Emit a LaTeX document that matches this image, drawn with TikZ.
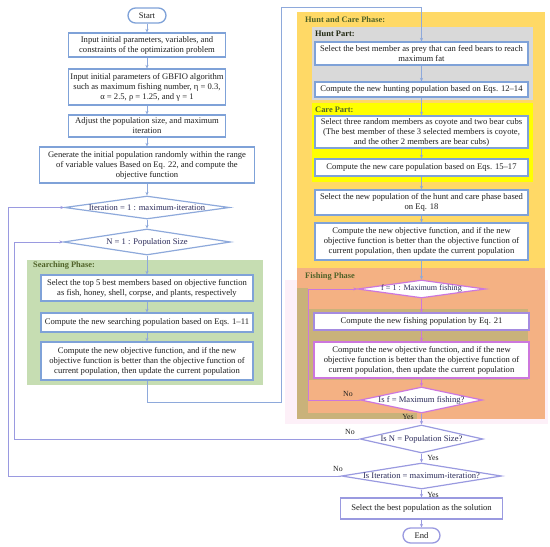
\documentclass[tikz,border=0pt]{standalone}
\usepackage{fontspec}
\setmainfont{Liberation Serif}
\usetikzlibrary{shapes.geometric,arrows.meta}
\definecolor{bx}{HTML}{7FA2D8}
\definecolor{ln}{HTML}{8EA9DB}
\definecolor{lav}{HTML}{9A9AE0}
\definecolor{mag}{HTML}{CC77DD}
\definecolor{fbx}{HTML}{A58BE0}
\definecolor{txt}{HTML}{1F1F1F}
\definecolor{dtxt}{HTML}{2B2B5A}
\definecolor{lbl}{HTML}{4F6228}
\definecolor{grn}{HTML}{C6DDB2}
\definecolor{gold}{HTML}{FFD966}
\definecolor{gry}{HTML}{D9D9D9}
\definecolor{yel}{HTML}{FFFF00}
\definecolor{salm}{HTML}{F4B183}
\definecolor{khaki}{HTML}{C9B27A}
\definecolor{pinkbg}{HTML}{FDF0F8}
\begin{document}
\begin{tikzpicture}[x=1pt,y=-1pt,
  font=\fontsize{8.6}{10}\selectfont,
  boxn/.style={draw=bx, line width=1.3pt, fill=white, align=center, inner sep=0pt, text=txt},
  pill/.style={boxn, rounded corners=7.5pt, minimum width=38pt, minimum height=15pt},
  dia/.style={diamond, draw=ln, line width=1.2pt, fill=white, inner sep=0pt},
  dtext/.style={text=dtxt, inner sep=0pt},
  conn/.style={draw=ln, line width=1pt, -{Stealth[length=3.5pt,width=3.2pt]}},
  phase/.style={anchor=west, text=lbl, font=\fontsize{8.4}{10}\selectfont\bfseries, inner sep=0pt},
  yn/.style={text=txt, font=\fontsize{7.8}{9}\selectfont, inner sep=0pt}
]
\useasboundingbox (0,0) rectangle (550,547);
% backgrounds
\fill[pinkbg] (285,280) rectangle (548,424);
\fill[grn] (27,260) rectangle (263,385);
\fill[gold] (297,12) rectangle (545,268);
\fill[gry] (312,27) rectangle (533,100);
\fill[yel] (312,103) rectangle (533,182);
\fill[salm] (297,268) rectangle (545,419);
\fill[khaki] (297,288) rectangle (528,419);
\fill[salm] (308,288) rectangle (545,309);
\fill[salm] (308,380) rectangle (545,413);
\fill[salm] (417,412) rectangle (545,419);

\node[phase] (lsp) at (33,266) {Searching Phase:};
\node[phase] (lhc) at (305,20) {Hunt and Care Phase:};
\node[phase, text=black!60!lbl] (lhp) at (315,34) {Hunt Part:};
\node[phase] (lcp) at (315,110) {Care Part:};
\node[phase] (lfp) at (305,277) {Fishing Phase};

% main column
\node[pill] (st) at (147,15.5) {Start};
\node[boxn, minimum width=157pt, minimum height=24pt] (b1) at (147,45) {Input initial parameters, variables, and\\constraints of the optimization problem};
\node[boxn, minimum width=157pt, minimum height=36pt] (b2) at (147,87) {Input initial parameters of GBFIO algorithm\\such as maximum fishing number, η = 0.3,\\α = 2.5, ρ = 1.25, and γ = 1};
\node[boxn, minimum width=157pt, minimum height=22pt] (b3) at (147,126) {Adjust the population size, and maximum\\iteration};
\node[boxn, minimum width=215pt, minimum height=36pt] (b4) at (147,165) {Generate the initial population randomly within the range\\of variable values Based on Eq. 22, and compute the\\objective function};
\node[dia, minimum width=165pt, minimum height=23pt] (d1) at (147,207.5) {};
\node[dtext] (t1) at (d1) {Iteration = 1 : maximum-iteration};
\node[dia, minimum width=167pt, minimum height=26pt] (d2) at (147,242) {};
\node[dtext] (t2) at (d2) {N = 1 : Population Size};
\node[boxn, minimum width=212pt, minimum height=26pt] (s1) at (147,288) {Select the top 5 best members based on objective function\\as fish, honey, shell, corpse, and plants, respectively};
\node[boxn, minimum width=212pt, minimum height=19pt] (s2) at (147,322.5) {Compute the new searching population based on Eqs. 1–11};
\node[boxn, minimum width=212pt, minimum height=38pt] (s3) at (147,361) {Compute the new objective function, and if the new\\objective function is better than the objective function of\\current population, then update the current population};

% right column
\node[boxn, minimum width=213pt, minimum height=23pt] (h1) at (421.5,53.5) {Select the best member as prey that can feed bears to reach\\maximum fat};
\node[boxn, minimum width=213pt, minimum height=15pt] (h2) at (421.5,89.5) {Compute the new hunting population based on Eqs. 12–14};
\node[boxn, minimum width=213pt, minimum height=32pt] (c1) at (421.5,132) {Select three random members as coyote and two bear cubs\\(The best member of these 3 selected members is coyote,\\and the other 2 members are bear cubs)};
\node[boxn, minimum width=213pt, minimum height=17pt] (c2) at (421.5,167.5) {Compute the new care population based on Eqs. 15–17};
\node[boxn, minimum width=213pt, minimum height=25pt] (hc1) at (421.5,202.5) {Select the new population of the hunt and care phase based\\on Eq. 18};
\node[boxn, minimum width=213pt, minimum height=37pt] (hc2) at (421.5,241.5) {Compute the new objective function, and if the new\\objective function is better than the objective function of\\current population, then update the current population};
\node[dia, draw=mag, minimum width=128pt, minimum height=18pt] (df) at (421.5,289) {};
\node[dtext, font=\fontsize{8.1}{10}\selectfont] (tf) at (df) {f = 1 : Maximum fishing};
\node[boxn, draw=fbx, minimum width=215pt, minimum height=17pt] (f1) at (421.5,321.5) {Compute the new fishing population by Eq. 21};
\node[boxn, draw=mag, minimum width=215pt, minimum height=36pt] (f2) at (421.5,360) {Compute the new objective function, and if the new\\objective function is better than the objective function of\\current population, then update the current population};
\node[dia, draw=mag, minimum width=122pt, minimum height=26pt] (dif) at (421.5,400) {};
\node[dtext] (tif) at (dif) {Is f = Maximum fishing?};
\node[dia, draw=lav, minimum width=123pt, minimum height=28pt] (din) at (421.5,439) {};
\node[dtext] (tin) at (din) {Is N = Population Size?};
\node[dia, draw=lav, minimum width=160pt, minimum height=26pt] (dii) at (421.5,476) {};
\node[dtext] (tii) at (dii) {Is Iteration = maximum-iteration?};
\node[boxn, draw=lav, minimum width=162pt, minimum height=21pt] (fin) at (421.5,508.5) {Select the best population as the solution};
\node[pill, draw=lav, minimum width=37pt] (en) at (421.5,535.5) {End};

% yes / no labels
\node[yn] (n1) at (348,394) {No};
\node[yn] (n2) at (350,432) {No};
\node[yn] (n3) at (338,469) {No};
\node[yn] (y1) at (408,417) {Yes};
\node[yn] (y2) at (433,458) {Yes};
\node[yn] (y3) at (433,495) {Yes};

% connectors main column
\draw[conn] (st) -- (b1);
\draw[conn] (b1) -- (b2);
\draw[conn] (b2) -- (b3);
\draw[conn] (b3) -- (b4);
\draw[conn] (b4) -- (d1.north);
\draw[conn] (d1.south) -- (d2.north);
\draw[conn] (d2.south) -- (s1);
\draw[conn] (s1) -- (s2);
\draw[conn] (s2) -- (s3);
\coordinate (j1) at (281,402);
\coordinate (j2) at (281,7);
\draw[conn] (s3.south) |- (j1) -- (j2) -| (h1.north);
% right column
\draw[conn] (h1) -- (h2);
\draw[conn] (h2) -- (c1);
\draw[conn] (c1) -- (c2);
\draw[conn] (c2) -- (hc1);
\draw[conn] (hc1) -- (hc2);
\draw[conn] (hc2) -- (df.north);
\draw[conn, draw=mag] (df.south) -- (f1);
\draw[conn, draw=mag] (f1) -- (f2);
\draw[conn, draw=mag] (f2) -- (dif.north);
\draw[conn, draw=lav] (dif.south) -- (din.north);
\draw[conn, draw=lav] (din.south) -- (dii.north);
\draw[conn, draw=lav] (dii.south) -- (fin);
\draw[conn, draw=lav] (fin) -- (en);
% loops
\coordinate (lf) at (308,400);
\draw[conn, draw=mag] (dif.west) -- (lf) |- (df.west);
\coordinate (lnn) at (14,439);
\draw[conn, draw=lav] (din.west) -- (lnn) |- (d2.west);
\coordinate (lii) at (8,476);
\draw[conn, draw=lav] (dii.west) -- (lii) |- (d1.west);
\end{tikzpicture}
\end{document}
